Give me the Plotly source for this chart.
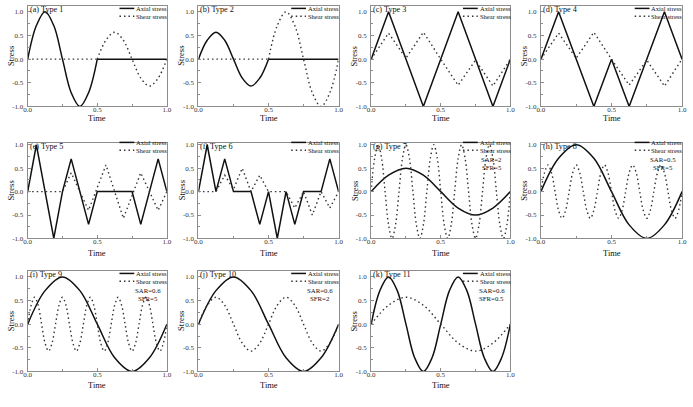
import plotly.graph_objects as go

# ---------------- data ----------------
T8 = [0, 0.125, 0.25, 0.375, 0.5, 0.625, 0.75, 0.875, 1.0]
T16 = [0, 0.0625, 0.125, 0.1875, 0.25, 0.3125, 0.375, 0.4375, 0.5,
       0.5625, 0.625, 0.6875, 0.75, 0.8125, 0.875, 0.9375, 1.0]
T40 = [0, 0.025, 0.05, 0.075, 0.1, 0.125, 0.15, 0.175, 0.2, 0.225,
       0.25, 0.275, 0.3, 0.325, 0.35, 0.375, 0.4, 0.425, 0.45, 0.475,
       0.5, 0.525, 0.55, 0.575, 0.6, 0.625, 0.65, 0.675, 0.7, 0.725,
       0.75, 0.775, 0.8, 0.825, 0.85, 0.875, 0.9, 0.925, 0.95, 0.975, 1.0]
T_FIRST_HALF = T16[:9]
T_SECOND_HALF = T16[8:]
T_FLAT_FIRST = [0, 0.5]
T_FLAT_SECOND = [0.5, 1.0]
FLAT = [0, 0]

a_axial = [0, 0.71, 1.0, 0.71, 0, -0.71, -1.0, -0.71, 0]
a_shear = [0, 0.4, 0.57, 0.4, 0, -0.4, -0.57, -0.4, 0]
b_axial = [0, 0.4, 0.57, 0.4, 0, -0.4, -0.57, -0.4, 0]
b_shear = [0, 0.71, 1.0, 0.71, 0, -0.71, -1.0, -0.71, 0]

c_axial_t = [0, 0.125, 0.375, 0.625, 0.875, 1.0]
c_axial = [0, 1.0, -1.0, 1.0, -1.0, 0]
c_shear_t = [0, 0.125, 0.25, 0.375, 0.5, 0.625, 0.75, 0.875, 1.0]
c_shear = [0, 0.55, 0.02, 0.57, 0, -0.55, -0.02, -0.57, 0]

d_axial_t = [0, 0.125, 0.375, 0.5, 0.625, 0.875, 1.0]
d_axial = [0, 1.0, -1.0, 0, -1.0, 1.0, 0]
d_shear_t = [0, 0.125, 0.25, 0.375, 0.5, 0.625, 0.75, 0.875, 1.0]
d_shear = [0, 0.55, 0.02, 0.57, 0, -0.55, -0.02, -0.57, 0]

e_axial_t = [0, 0.0625, 0.1875, 0.25, 0.3125, 0.4375, 0.5, 0.75, 0.8125, 0.9375, 1.0]
e_axial = [0, 1.0, -1.0, 0, 0.7, -0.7, 0, 0, -0.7, 0.7, 0]
e_shear_t = [0, 0.25, 0.3125, 0.4375, 0.5625, 0.6875, 0.8125, 0.9375, 1.0]
e_shear = [0, 0, 0.4, -0.4, 0.57, -0.57, 0.4, -0.4, 0]

f_axial_t = [0, 0.0625, 0.125, 0.1875, 0.25, 0.375, 0.4375, 0.5, 0.5625,
             0.625, 0.6875, 0.75, 0.875, 0.9375, 1.0]
f_axial = [0, 1.0, 0, 0.7, 0, 0, -0.7, 0, -1.0, 0, -0.7, 0, 0, 0.7, 0]
f_shear_t = [0, 0.125, 0.1875, 0.25, 0.3125, 0.375, 0.4375, 0.5, 0.625,
             0.6875, 0.75, 0.8125, 0.875, 0.9375, 1.0]
f_shear = [0, 0, 0.35, 0.05, 0.5, 0.0, 0.35, 0, 0, -0.35, 0, -0.5, 0, -0.35, 0]

g_axial = [0, 0.35, 0.5, 0.35, 0, -0.35, -0.5, -0.35, 0]
g_shear = [0, 0.71, 1.0, 0.71, 0, -0.71, -1.0, -0.71,
           0, 0.71, 1.0, 0.71, 0, -0.71, -1.0, -0.71,
           0, 0.71, 1.0, 0.71, 0, -0.71, -1.0, -0.71,
           0, 0.71, 1.0, 0.71, 0, -0.71, -1.0, -0.71,
           0, 0.71, 1.0, 0.71, 0, -0.71, -1.0, -0.71, 0]

h_axial = [0, 0.71, 1.0, 0.71, 0, -0.71, -1.0, -0.71, 0]
h_shear = [0, 0.4, 0.57, 0.4, 0, -0.4, -0.57, -0.4,
           0, 0.4, 0.57, 0.4, 0, -0.4, -0.57, -0.4,
           0, 0.4, 0.57, 0.4, 0, -0.4, -0.57, -0.4,
           0, 0.4, 0.57, 0.4, 0, -0.4, -0.57, -0.4,
           0, 0.4, 0.57, 0.4, 0, -0.4, -0.57, -0.4, 0]

i_axial = [0, 0.71, 1.0, 0.71, 0, -0.71, -1.0, -0.71, 0]
i_shear = [0, 0.4, 0.57, 0.4, 0, -0.4, -0.57, -0.4,
           0, 0.4, 0.57, 0.4, 0, -0.4, -0.57, -0.4,
           0, 0.4, 0.57, 0.4, 0, -0.4, -0.57, -0.4,
           0, 0.4, 0.57, 0.4, 0, -0.4, -0.57, -0.4,
           0, 0.4, 0.57, 0.4, 0, -0.4, -0.57, -0.4, 0]

j_axial = [0, 0.71, 1.0, 0.71, 0, -0.71, -1.0, -0.71, 0]
j_shear = [0, 0.4, 0.57, 0.4, 0, -0.4, -0.57, -0.4,
           0, 0.4, 0.57, 0.4, 0, -0.4, -0.57, -0.4, 0]

k_axial = [0, 0.71, 1.0, 0.71, 0, -0.71, -1.0, -0.71,
           0, 0.71, 1.0, 0.71, 0, -0.71, -1.0, -0.71, 0]
k_shear = [0, 0.4, 0.57, 0.4, 0, -0.4, -0.57, -0.4, 0]

panel_titles = ["(a) Type 1", "(b) Type 2", "(c) Type 3", "(d) Type 4",
                "(e) Type 5", "(f) Type 6", "(g) Type 7", "(h) Type 8",
                "(i) Type 9", "(j) Type 10", "(k) Type 11"]
ratio_labels = [None, None, None, None, None, None,
                ("SAR=2", "SFR=5"), ("SAR=0.5", "SFR=5"),
                ("SAR=0.6", "SFR=5"), ("SAR=0.6", "SFR=2"), ("SAR=0.6", "SFR=0.5")]
legend_names = ["Axial stress", "Shear stress"]
x_tick_vals = [0, 0.5, 1.0]
x_tick_text = ["0.0", "0.5", "1.0"]
y_tick_vals = [-1.0, -0.5, 0.0, 0.5, 1.0]
y_tick_text = ["-1.0", "-0.5", "0.0", "0.5", "1.0"]
x_minor = [0.25, 0.75]
y_minor = [-0.75, -0.25, 0.25, 0.75]

# segments per panel: (t, v, kind, shape)
panels = [
    [(T_FIRST_HALF, a_axial, "axial", "spline"), (T_FLAT_SECOND, FLAT, "axial", "linear"),
     (T_FLAT_FIRST, FLAT, "shear", "linear"), (T_SECOND_HALF, a_shear, "shear", "spline")],
    [(T_FIRST_HALF, b_axial, "axial", "spline"), (T_FLAT_SECOND, FLAT, "axial", "linear"),
     (T_FLAT_FIRST, FLAT, "shear", "linear"), (T_SECOND_HALF, b_shear, "shear", "spline")],
    [(c_axial_t, c_axial, "axial", "linear"), (c_shear_t, c_shear, "shear", "linear")],
    [(d_axial_t, d_axial, "axial", "linear"), (d_shear_t, d_shear, "shear", "linear")],
    [(e_axial_t, e_axial, "axial", "linear"), (e_shear_t, e_shear, "shear", "linear")],
    [(f_axial_t, f_axial, "axial", "linear"), (f_shear_t, f_shear, "shear", "linear")],
    [(T8, g_axial, "axial", "spline"), (T40, g_shear, "shear", "spline")],
    [(T8, h_axial, "axial", "spline"), (T40, h_shear, "shear", "spline")],
    [(T8, i_axial, "axial", "spline"), (T40, i_shear, "shear", "spline")],
    [(T8, j_axial, "axial", "spline"), (T16, j_shear, "shear", "spline")],
    [(T16, k_axial, "axial", "spline"), (T8, k_shear, "shear", "spline")],
]

# ---------------- layout ----------------
W, H = 693, 407
COLS = [(24, 165), (197, 339), (372, 513), (544, 687)]
ROWS = [(4, 106), (143, 240), (273, 375)]
ROW_YTOP = [1.125, 1.04, 1.125]
ROW_TIME_OFF = [12, 14.5, 13.5]
ROW_LEGEND_OFF = [2.5, -0.5, 2.5]
FONT = "Liberation Serif"
FRAME = "#8c8c8c"

AXIAL_STYLE = dict(color="#111111", width=1.5)
SHEAR_STYLE = dict(color="#333333", width=1.4, dash="1.5px,3px")


def fx(p):
    return p / W


def fy(p):
    return 1 - p / H


fig = go.Figure()
annotations = []
shapes = []

for idx, segs in enumerate(panels):
    n = idx + 1
    r, c = divmod(idx, 4)
    x0, x1 = COLS[c]
    y0, y1 = ROWS[r]
    xname = "x" if n == 1 else f"x{n}"
    yname = "y" if n == 1 else f"y{n}"
    for t, v, kind, shape in segs:
        style = AXIAL_STYLE if kind == "axial" else SHEAR_STYLE
        fig.add_trace(go.Scatter(x=t, y=v, mode="lines", line=dict(shape=shape, **style),
                                 xaxis=xname, yaxis=yname, showlegend=False,
                                 hoverinfo="skip", cliponaxis=False))
    common = dict(showline=True, linecolor=FRAME, linewidth=1, mirror=True,
                  ticks="inside", ticklen=3, tickcolor=FRAME, tickwidth=1,
                  showgrid=False, zeroline=False,
                  tickfont=dict(family=FONT, size=7, color="#333333"),
                  tickmode="array")
    fig.layout[("xaxis" if n == 1 else f"xaxis{n}")] = dict(
        common, domain=[fx(x0), fx(x1)], anchor=yname, range=[0, 1],
        tickvals=x_tick_vals, ticktext=x_tick_text, ticklabelstandoff=-4,
        minor=dict(tickmode="array", tickvals=x_minor, ticks="inside", ticklen=2, tickcolor=FRAME))
    fig.layout[("yaxis" if n == 1 else f"yaxis{n}")] = dict(
        common, domain=[fy(y1), fy(y0)], anchor=xname, range=[-1.0, ROW_YTOP[r]],
        tickvals=y_tick_vals, ticktext=y_tick_text, ticklabelstandoff=2,
        minor=dict(tickmode="array", tickvals=y_minor, ticks="inside", ticklen=2, tickcolor=FRAME))

    # panel title
    annotations.append(dict(text=panel_titles[idx], x=fx(x0 + 1), y=fy(y0 + 4),
                            xref="paper", yref="paper", xanchor="left", yanchor="middle",
                            showarrow=False, borderpad=0,
                            font=dict(family=FONT, size=8.2, color="#111")))
    # axis titles
    annotations.append(dict(text="Time", x=fx((x0 + x1) / 2), y=fy(y1 + ROW_TIME_OFF[r]),
                            xref="paper", yref="paper", xanchor="center", yanchor="middle",
                            showarrow=False, borderpad=0,
                            font=dict(family=FONT, size=8.5, color="#111")))
    annotations.append(dict(text="Stress", x=fx(x0 - 17), y=fy((y0 + y1) / 2),
                            xref="paper", yref="paper", xanchor="center", yanchor="middle",
                            textangle=-90, showarrow=False, borderpad=0,
                            font=dict(family=FONT, size=8.5, color="#111")))
    # legend (line samples + text)
    lo = ROW_LEGEND_OFF[r]
    for k, name in enumerate(legend_names):
        ly = y0 + lo + 8 * k
        style = AXIAL_STYLE if k == 0 else SHEAR_STYLE
        shapes.append(dict(type="line", xref="paper", yref="paper",
                           x0=fx(x1 - 48), x1=fx(x1 - 33), y0=fy(ly), y1=fy(ly),
                           line=dict(color=style["color"], width=style["width"],
                                     dash=style.get("dash", "solid"))))
        annotations.append(dict(text=name, x=fx(x1 - 32), y=fy(ly),
                                xref="paper", yref="paper", xanchor="left", yanchor="middle",
                                showarrow=False, borderpad=0,
                                font=dict(family=FONT, size=6.5, color="#111")))
    if ratio_labels[idx]:
        for k, txt in enumerate(ratio_labels[idx]):
            annotations.append(dict(text=txt, x=fx(x1 - 19), y=fy(y0 + lo + 17 + 8 * k),
                                    xref="paper", yref="paper", xanchor="center",
                                    yanchor="middle", showarrow=False, borderpad=0,
                                    font=dict(family=FONT, size=6.8, color="#111")))

fig.update_layout(width=W, height=H, margin=dict(l=0, r=0, t=0, b=0),
                  paper_bgcolor="white", plot_bgcolor="white",
                  annotations=annotations, shapes=shapes, showlegend=False)
fig.write_html("out.html", config={"displayModeBar": False},
               post_script="document.body.style.margin='0';document.body.style.padding='0';")
